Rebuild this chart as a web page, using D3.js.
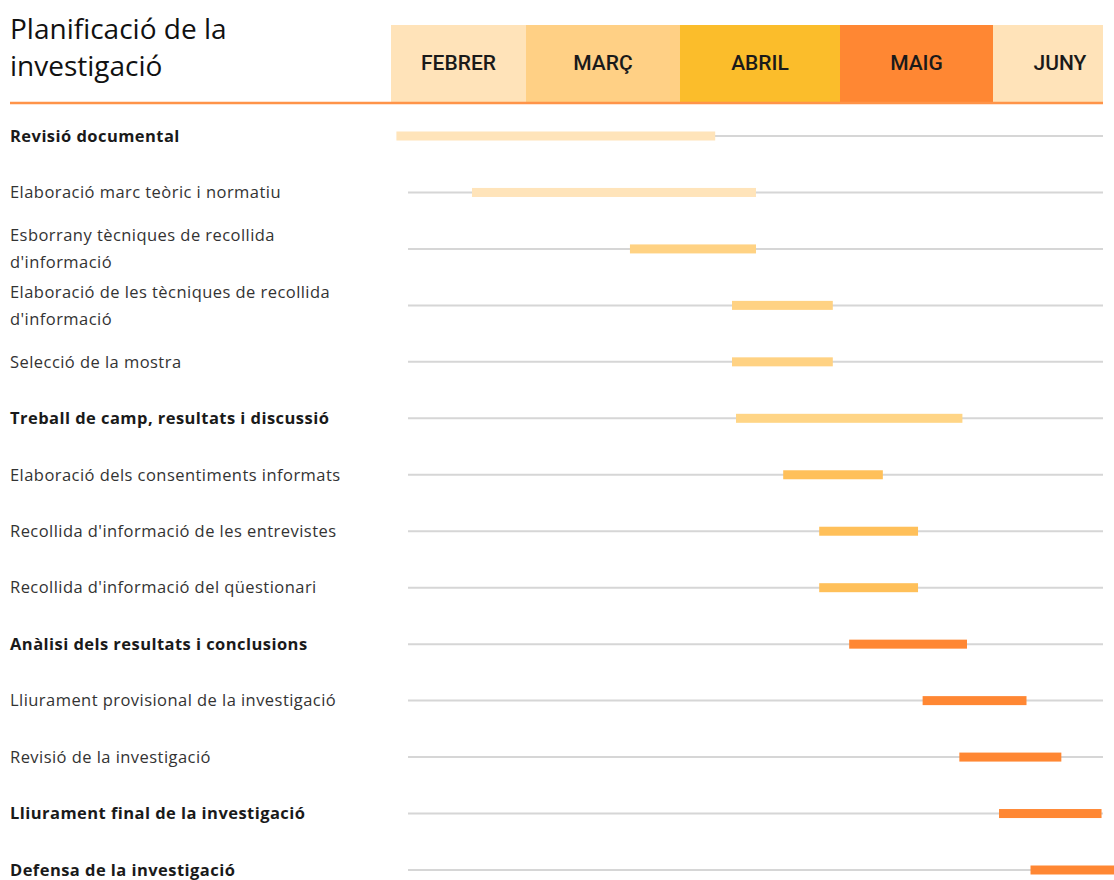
<!DOCTYPE html>
<html>
<head>
<meta charset="utf-8">
<script src="https://cdn.jsdelivr.net/npm/d3@7"></script>
<style>
    body { margin: 0; background: #fff; }
    svg { display: block; }
</style>
</head>
<body>
<script>
// months shown in the header (month index 0 = febrer)
var months = ["FEBRER", "MARÇ", "ABRIL", "MAIG", "JUNY"];
var monthColors = ["#FFE3B9", "#FFD085", "#FBBD2B", "#FF8733", "#FFE3B9"];

// tasks, start and end in months since 1 feb
var tasks = [
    "Revisió documental",
    "Elaboració marc teòric i normatiu",
    "Esborrany tècniques de recollida|d'informació",
    "Elaboració de les tècniques de recollida|d'informació",
    "Selecció de la mostra",
    "Treball de camp, resultats i discussió",
    "Elaboració dels consentiments informats",
    "Recollida d'informació de les entrevistes",
    "Recollida d'informació del qüestionari",
    "Anàlisi dels resultats i conclusions",
    "Lliurament provisional de la investigació",
    "Revisió de la investigació",
    "Lliurament final de la investigació",
    "Defensa de la investigació"
];
var taskBold = [true, false, false, false, false, true, false, false, false, true, false, false, true, true];
var taskStart = [0.04, 0.60, 1.675, 2.325, 2.325, 2.35, 2.645, 2.87, 2.87, 3.06, 3.54, 3.78, 4.045, 4.28];
var taskEnd = [2.22, 2.475, 2.475, 2.955, 2.955, 3.80, 3.28, 3.51, 3.51, 3.83, 4.25, 4.51, 4.81, 5.0];
var taskColors = ["#FFE4BA", "#FFE4BA", "#FFD283", "#FFD283", "#FFD283", "#FFD586",
    "#FFC05A", "#FFC05A", "#FFC05A", "#FF8733", "#FF8733", "#FF8733", "#FF8733", "#FF8733"];

var width = 1114, height = 880;
var chartRight = 1103, lineLeft = 408;

var svg = d3.select("body").append("svg")
    .attr("width", width)
    .attr("height", height);

// month boundaries are not evenly spaced in the original
var x = d3.scaleLinear()
    .domain([0, 1, 2, 3, 4, 5])
    .range([391, 526, 680, 840, 993, 1127]);

var y = d3.scalePoint()
    .domain(d3.range(tasks.length))
    .range([136, 870]);

// title
var title = svg.append("text")
    .attr("x", 10)
    .attr("font-family", "'Open Sans', sans-serif")
    .attr("font-size", 28)
    .attr("fill", "#111");
title.append("tspan").attr("x", 10).attr("y", 39).text("Planificació de la");
title.append("tspan").attr("x", 10).attr("y", 76).text("investigació");

// month header
var header = svg.append("g").attr("class", "header");

header.selectAll(".monthBand")
    .data(months)
    .enter()
    .append("rect")
    .attr("class", "monthBand")
    .attr("x", function(d, i) { return x(i); })
    .attr("y", 25)
    .attr("width", function(d, i) { return Math.min(x(i + 1), chartRight) - x(i); })
    .attr("height", 78)
    .attr("fill", function(d, i) { return monthColors[i]; });

header.selectAll(".monthText")
    .data(months)
    .enter()
    .append("text")
    .attr("class", "monthText")
    .attr("x", function(d, i) { return x(i + 0.5); })
    .attr("y", 62)
    .attr("dy", "0.36em")
    .attr("text-anchor", "middle")
    .attr("font-family", "Roboto, sans-serif")
    .attr("font-size", 21)
    .attr("font-weight", 500)
    .attr("fill", "#1a1a1a")
    .text(function(d) { return d; });

svg.append("line")
    .attr("x1", 10)
    .attr("x2", chartRight)
    .attr("y1", 103)
    .attr("y2", 103)
    .attr("stroke", "#FF9449")
    .attr("stroke-width", 2.5);

// rows
var rows = svg.selectAll(".row")
    .data(tasks)
    .enter()
    .append("g")
    .attr("class", "row")
    .attr("transform", function(d, i) { return "translate(0," + y(i) + ")"; });

rows.append("line")
    .attr("x1", lineLeft)
    .attr("x2", chartRight)
    .attr("stroke", "#d6d6d6")
    .attr("stroke-width", 2);

rows.append("rect")
    .attr("x", function(d, i) { return x(taskStart[i]); })
    .attr("y", -4.5)
    .attr("width", function(d, i) { return x(taskEnd[i]) - x(taskStart[i]); })
    .attr("height", 9)
    .attr("fill", function(d, i) { return taskColors[i]; });

rows.each(function(d, i) {
    var parts = d.split("|");
    var lineHeight = 27;
    var t = d3.select(this).append("text")
        .attr("font-family", "'Open Sans', sans-serif")
        .attr("font-size", 16.5)
        .attr("letter-spacing", 0.45)
        .attr("font-weight", taskBold[i] ? 700 : 400)
        .attr("fill", taskBold[i] ? "#1a1a1a" : "#333");
    parts.forEach(function(p, k) {
        t.append("tspan")
            .attr("x", 10)
            .attr("y", (k - (parts.length - 1) / 2) * lineHeight)
            .attr("dy", "0.35em")
            .text(p);
    });
});
</script>
</body>
</html>
